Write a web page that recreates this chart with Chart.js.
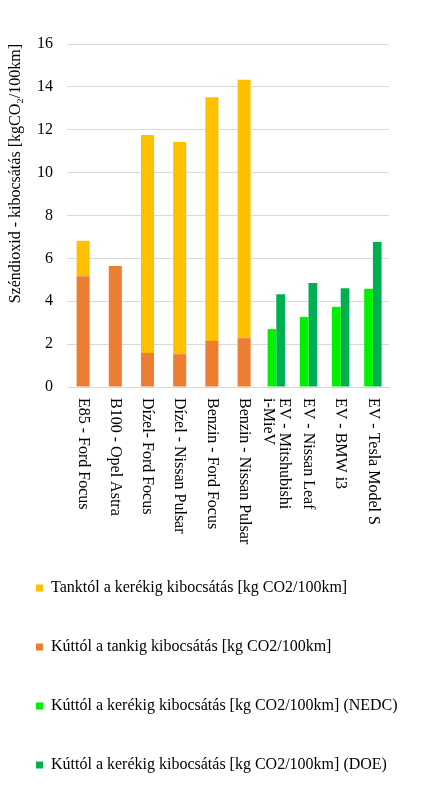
<!DOCTYPE html>
<html>
<head>
<meta charset="utf-8">
<script src="https://cdn.jsdelivr.net/npm/chart.js@4"></script>
<style>
  html, body { margin: 0; padding: 0; background: #fff; overflow: hidden; }
  #wrap { position: absolute; left: -7px; top: 0; width: 432px; height: 788px; }
</style>
</head>
<body>
<div id="wrap"><canvas id="co2Chart"></canvas></div>
<script>
const categories = [
  'E85 - Ford Focus',
  'B100 - Opel Astra',
  'Dízel- Ford Focus',
  'Dízel - Nissan Pulsar',
  'Benzin - Ford Focus',
  'Benzin - Nissan Pulsar',
  ['EV - Mitshubishi', 'i-MieV'],
  'EV - Nissan Leaf',
  'EV - BMW i3',
  'EV - Tesla Model S'
];
const wellToTank = [5.17, 5.65, 1.59, 1.53, 2.15, 2.28, null, null, null, null];
const tankToWheel = [1.65, null, 10.17, 9.90, 11.37, 12.05, null, null, null, null];
const wellToWheelNedc = [null, null, null, null, null, null, 2.70, 3.27, 3.74, 4.58];
const wellToWheelDoe = [null, null, null, null, null, null, 4.33, 4.85, 4.61, 6.76];
const yTicks = [0, 2, 4, 6, 8, 10, 12, 14, 16];

const serif = '"Liberation Serif", "Times New Roman", serif';
const legendRank = [1, 0, 2, 3];

// x labels read top to bottom, so they are drawn here instead of by the scale
const rotatedLabels = {
  id: 'rotatedLabels',
  afterDraw(chart) {
    const { ctx, chartArea, scales: { x } } = chart;
    ctx.save();
    ctx.font = '16px ' + serif;
    ctx.fillStyle = '#000';
    ctx.textAlign = 'left';
    ctx.textBaseline = 'middle';
    categories.forEach((label, i) => {
      const lines = [].concat(label);
      ctx.save();
      ctx.translate(x.getPixelForTick(i), chartArea.bottom + 11);
      ctx.rotate(Math.PI / 2);
      lines.forEach((line, j) => ctx.fillText(line, 0, (j - (lines.length - 1) / 2) * 16));
      ctx.restore();
    });
    ctx.restore();
  }
};

const ctx = document.getElementById('co2Chart').getContext('2d');
const co2Chart = new Chart(ctx, {
  type: 'bar',
  data: {
    labels: categories,
    datasets: [{
      label: 'Kúttól a tankig kibocsátás [kg CO2/100km]',
      data: wellToTank,
      backgroundColor: '#ED7D31',
      stack: 'fuel',
      barPercentage: 0.75
    }, {
      label: 'Tanktól a kerékig kibocsátás [kg CO2/100km]',
      data: tankToWheel,
      backgroundColor: '#FFC000',
      stack: 'fuel',
      barPercentage: 0.75
    }, {
      label: 'Kúttól a kerékig kibocsátás [kg CO2/100km] (NEDC)',
      data: wellToWheelNedc,
      backgroundColor: '#00F000',
      stack: 'nedc',
      barPercentage: 1
    }, {
      label: 'Kúttól a kerékig kibocsátás [kg CO2/100km] (DOE)',
      data: wellToWheelDoe,
      backgroundColor: '#00B050',
      stack: 'doe',
      barPercentage: 1
    }]
  },
  options: {
    responsive: true,
    maintainAspectRatio: false,
    animation: false,
    datasets: {
      bar: { categoryPercentage: 0.54, skipNull: true, borderWidth: 0 }
    },
    layout: { padding: { top: 44, right: 0, bottom: 5, left: 0 } },
    scales: {
      x: {
        stacked: true,
        grid: { display: false },
        border: { color: '#D9D9D9' },
        ticks: { display: false },
        afterFit: scale => { scale.height = 150; }
      },
      y: {
        stacked: true,
        min: 0,
        max: 16,
        afterBuildTicks: scale => { scale.ticks = yTicks.map(v => ({ value: v })); },
        afterFit: scale => { scale.width = 74; },
        grid: { color: '#D9D9D9', drawTicks: false },
        border: { display: false },
        ticks: { padding: 14, color: '#000', font: { family: serif, size: 16 } },
        title: {
          display: true,
          text: 'Széndioxid - kibocsátás [kgCO₂/100km]',
          align: 'end',
          color: '#000',
          font: { family: serif, size: 16 },
          padding: { top: 13, bottom: 0 }
        }
      },
      // empty right axis only keeps the plot area narrower than the legend
      yRight: {
        position: 'right',
        grid: { display: false },
        border: { display: false },
        ticks: { display: false },
        afterFit: scale => { scale.width = 36; }
      }
    },
    plugins: {
      tooltip: { enabled: false },
      legend: {
        position: 'bottom',
        align: 'start',
        labels: {
          boxWidth: 7,
          boxHeight: 7,
          padding: 43,
          color: '#000',
          font: { family: serif, size: 16 },
          sort: (a, b) => legendRank[a.datasetIndex] - legendRank[b.datasetIndex]
        }
      }
    }
  },
  plugins: [rotatedLabels]
});
</script>
</body>
</html>
